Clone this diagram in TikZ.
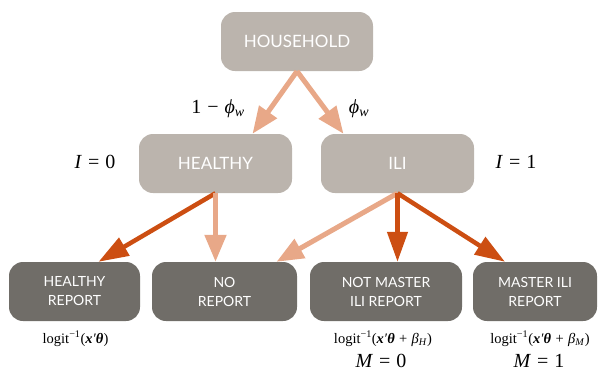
\documentclass[tikz,border=0pt]{standalone}
\usepackage{fontspec}
\newfontfamily\boxfont{Lato}
\newfontfamily\labfont{Liberation Serif}
\usetikzlibrary{arrows.meta}
\definecolor{boxlight}{HTML}{BBB4AD}
\definecolor{boxdark}{HTML}{706D68}
\definecolor{arrlight}{HTML}{E8A888}
\definecolor{arrdark}{HTML}{CC4E12}
\newcommand{\bxt}{\textbf{\textit{x}}\textit{′}\textbf{\textit{θ}}}
\newcommand{\op}[1]{\hspace{0.3em}#1\hspace{0.3em}}
\begin{document}
\begin{tikzpicture}[x=1pt,y=-1pt,
  upbox/.style={rectangle,rounded corners=14pt,fill=boxlight,text=white,
    minimum height=59pt,font=\boxfont\fontsize{17}{20}\selectfont},
  lowbox/.style={rectangle,rounded corners=14pt,fill=boxdark,text=white,
    minimum height=59pt,align=center,font=\boxfont\fontsize{14}{19}\selectfont},
  light/.style={arrlight,line width=5pt,-{Triangle[length=27pt,width=21pt]}},
  dark/.style={arrdark,line width=4.5pt,-{Triangle[length=30pt,width=20pt]}},
  lab/.style={anchor=base,inner sep=0pt,font=\labfont\fontsize{20}{22}\selectfont},
  prob/.style={anchor=base,inner sep=0pt,font=\labfont\fontsize{14.5}{16}\selectfont}]
\useasboundingbox (0,0) rectangle (598,370);

\node[upbox,minimum width=152pt] (house) at (297,41.5) {HOUSEHOLD};
\node[upbox,minimum width=153pt] (healthy) at (215.5,163.5) {HEALTHY};
\node[upbox,minimum width=153pt] (ili) at (397.5,163.5) {ILI};

\node[lowbox,minimum width=131pt] (hreport) at (74.5,291.5) {HEALTHY\\REPORT};
\node[lowbox,minimum width=145pt] (noreport) at (224.5,291.5) {NO\\REPORT};
\node[lowbox,minimum width=152pt] (nmreport) at (386,291.5) {NOT MASTER\\ILI REPORT};
\node[lowbox,minimum width=124pt] (mreport) at (535,291.5) {MASTER ILI\\REPORT};

\node[lab] (phi0) at (218,113) {1\op{−}\textit{ϕ}\textsubscript{\textit{w}}};
\node[lab] (phi1) at (359,113) {\textit{ϕ}\textsubscript{\textit{w}}};
\node[lab] (i0) at (95,168) {\textit{I}\op{=}0};
\node[lab] (i1) at (516,168) {\textit{I}\op{=}1};
\node[prob] (ph) at (75.5,343) {logit\textsuperscript{−1}(\bxt)};
\node[prob] (pnm) at (383,343) {logit\textsuperscript{−1}(\bxt\op{+}\textit{β}\textsubscript{\textit{H}})};
\node[prob] (pm) at (540,343) {logit\textsuperscript{−1}(\bxt\op{+}\textit{β}\textsubscript{\textit{M}})};
\node[lab] (m0) at (381,367) {\textit{M}\op{=}0};
\node[lab] (m1) at (539,367) {\textit{M}\op{=}1};

\draw[light] (house.south) -- ([xshift=37pt]healthy.north);
\draw[light] (house.south) -- ([xshift=-54pt]ili.north);

\draw[dark] (healthy.south) -- ([xshift=24pt]hreport.north);
\draw[light] (healthy.south) -- (healthy.south |- noreport.north);
\draw[light] (ili.south) -- ([xshift=52pt]noreport.north);
\draw[dark] (ili.south) -- (ili.south |- nmreport.north);
\draw[dark] (ili.south) -- ([xshift=-30pt]mreport.north);
\end{tikzpicture}
\end{document}
